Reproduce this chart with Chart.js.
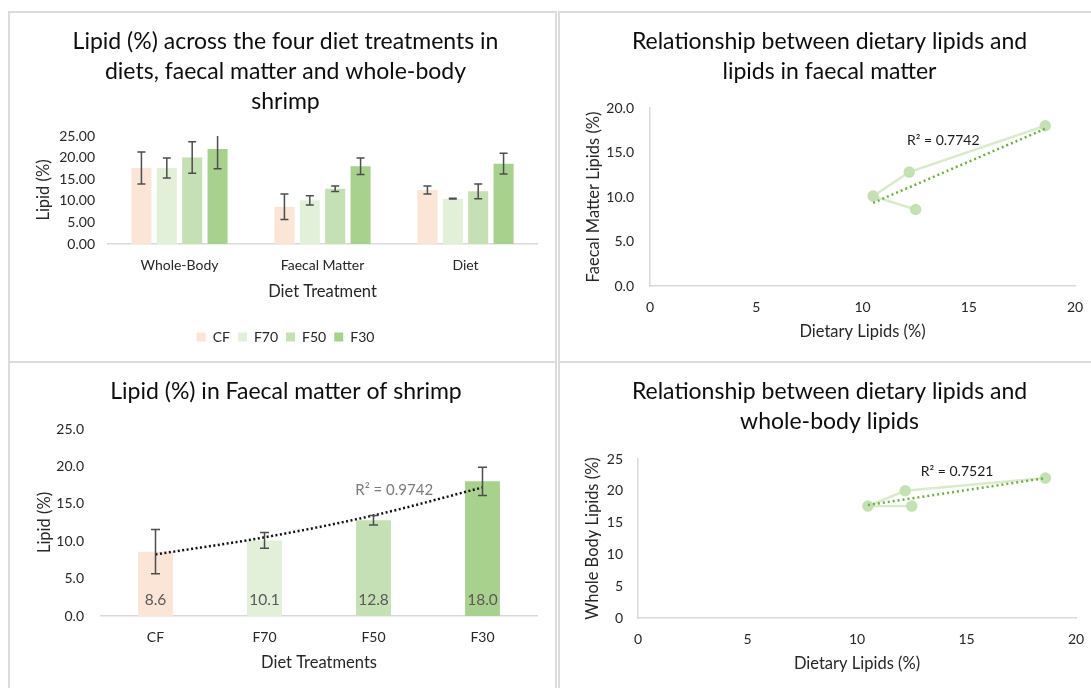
<!DOCTYPE html>
<html>
<head>
<meta charset="utf-8">
<title>Lipid content in diets, faecal matter and whole-body shrimp</title>
<script src="https://cdn.jsdelivr.net/npm/chart.js@4/dist/chart.umd.min.js"></script>
<style>
  html, body { margin: 0; padding: 0; background: #fff; }
  body { position: relative; width: 1091px; height: 688px; overflow: hidden; }
  .panel { position: absolute; box-sizing: border-box; border: 2px solid #dcdcdc; background: #fff; }
  .panel canvas { position: absolute; left: 0; top: 0; }
</style>
</head>
<body>
<div class="panel" style="left:8px; top:11px; width:549px; height:352px;">
  <canvas id="groupedChart" width="545" height="348"></canvas>
</div>
<div class="panel" style="left:558px; top:11px; width:549px; height:352px;">
  <canvas id="faecalScatter" width="545" height="348"></canvas>
</div>
<div class="panel" style="left:8px; top:361px; width:549px; height:344px;">
  <canvas id="faecalBars" width="545" height="340"></canvas>
</div>
<div class="panel" style="left:558px; top:361px; width:549px; height:344px;">
  <canvas id="bodyScatter" width="545" height="340"></canvas>
</div>
<script>
// ---- data ----
const treatments = ['CF', 'F70', 'F50', 'F30'];
const sampleTypes = ['Whole-Body', 'Faecal Matter', 'Diet'];

const wholeBodyLipid = [17.6, 17.6, 20.0, 22.0];
const wholeBodyErr   = [3.7, 2.3, 3.65, 4.6];
const faecalLipid    = [8.6, 10.1, 12.8, 18.0];
const faecalErr      = [2.95, 1.05, 0.65, 1.9];
const dietLipid      = [12.5, 10.5, 12.2, 18.6];
const dietErr        = [0.9, 0.1, 1.7, 2.4];

const r2Text = ['R\u00B2 = 0.9742', 'R\u00B2 = 0.7742', 'R\u00B2 = 0.7521'];

// ---- styling ----
const treatmentColors = ['#fbe5d6', '#e2f0d9', '#c5e0b4', '#a9d18e'];
const AXIS_LINE = '#d9d9d9';
const TEXT = '#262626';
const TITLE_COLOR = '#0d0d0d';
const FONT = "Lato, 'Open Sans', 'Noto Sans', sans-serif";

Chart.defaults.font.family = FONT;
Chart.defaults.color = TEXT;
Chart.defaults.animation = false;
Chart.defaults.plugins.tooltip.enabled = false;

const titleFont = { size: 23, weight: 'normal', lineHeight: 30 / 23 };
const tickFont = { size: 14 };
const axisTitleFont = { size: 16.5, lineHeight: 1.2 };

// ---- fits (least squares, as spreadsheet trendlines do) ----
function linearFit(xs, ys) {
  const n = xs.length;
  const mx = xs.reduce((a, b) => a + b, 0) / n;
  const my = ys.reduce((a, b) => a + b, 0) / n;
  let sxy = 0, sxx = 0;
  for (let i = 0; i < n; i++) { sxy += (xs[i] - mx) * (ys[i] - my); sxx += (xs[i] - mx) ** 2; }
  const slope = sxy / sxx;
  return x => my + slope * (x - mx);
}
function exponentialFit(ys) {
  const xs = ys.map((_, i) => i + 1);
  const f = linearFit(xs, ys.map(Math.log));
  return x => Math.exp(f(x));
}
function trendEnds(xs, ys) {
  const f = linearFit(xs, ys);
  const lo = Math.min(...xs), hi = Math.max(...xs);
  return [{ x: lo, y: f(lo) }, { x: hi, y: f(hi) }];
}

// ---- plugins ----
const errorBarPlugin = {
  id: 'errorBars',
  afterDatasetsDraw(chart, args, opts) {
    const { ctx, chartArea: a } = chart;
    const yScale = chart.scales.y;
    ctx.save();
    ctx.beginPath();
    ctx.rect(a.left, a.top, a.right - a.left, a.bottom - a.top);
    ctx.clip();
    ctx.strokeStyle = opts.color;
    ctx.lineWidth = opts.width;
    chart.data.datasets.forEach((ds, di) => {
      if (!ds.errors) return;
      const meta = chart.getDatasetMeta(di);
      meta.data.forEach((el, i) => {
        const v = ds.data[i], e = ds.errors[i];
        const yHi = yScale.getPixelForValue(v + e);
        const yLo = yScale.getPixelForValue(v - e);
        const x = el.x, c = opts.cap / 2;
        ctx.beginPath();
        ctx.moveTo(x, yHi); ctx.lineTo(x, yLo);
        ctx.moveTo(x - c, yHi); ctx.lineTo(x + c, yHi);
        ctx.moveTo(x - c, yLo); ctx.lineTo(x + c, yLo);
        ctx.stroke();
      });
    });
    ctx.restore();
  }
};

const baseLabelPlugin = {
  id: 'baseLabels',
  afterDatasetsDraw(chart, args, opts) {
    const { ctx } = chart;
    const ds = chart.data.datasets[opts.datasetIndex];
    const meta = chart.getDatasetMeta(opts.datasetIndex);
    const base = chart.scales.y.getPixelForValue(0);
    ctx.save();
    ctx.font = `${opts.size}px ${FONT}`;
    ctx.fillStyle = opts.color;
    ctx.textAlign = 'center';
    ctx.textBaseline = 'middle';
    meta.data.forEach((el, i) => {
      ctx.fillText(ds.data[i].toFixed(1), el.x, base - opts.offset);
    });
    ctx.restore();
  }
};

const r2Plugin = {
  id: 'r2Label',
  afterDatasetsDraw(chart, args, opts) {
    const { ctx } = chart;
    const x = chart.scales.x.getPixelForValue(opts.x);
    const y = chart.scales.y.getPixelForValue(opts.y);
    ctx.save();
    ctx.font = `${opts.size}px ${FONT}`;
    ctx.fillStyle = opts.color;
    ctx.textAlign = 'center';
    ctx.textBaseline = 'middle';
    ctx.fillText(opts.text, x, y);
    ctx.restore();
  }
};

function fixedWidth(w) { return s => { s.width = w; }; }
function fixedHeight(h) { return s => { s.height = h; }; }

// ---- 1. grouped bars: lipid in whole body, faecal matter and diet ----
new Chart(document.getElementById('groupedChart'), {
  type: 'bar',
  data: {
    labels: sampleTypes,
    datasets: treatments.map((t, i) => ({
      label: t,
      data: [wholeBodyLipid[i], faecalLipid[i], dietLipid[i]],
      errors: [wholeBodyErr[i], faecalErr[i], dietErr[i]],
      backgroundColor: treatmentColors[i],
      borderWidth: 0,
      categoryPercentage: 0.71,
      barPercentage: 0.79
    }))
  },
  options: {
    responsive: false,
    layout: { padding: { left: 24, right: 18, top: 0, bottom: 7 } },
    scales: {
      x: {
        grid: { display: false, drawTicks: false },
        border: { display: true, color: AXIS_LINE, width: 1.5 },
        ticks: { font: tickFont, color: TEXT, padding: 13 },
        title: { display: true, text: 'Diet Treatment', font: axisTitleFont, color: TEXT, padding: { top: 0, bottom: 20 } },
        afterFit: fixedHeight(78)
      },
      y: {
        min: 0, max: 25,
        grid: { display: false, drawTicks: false },
        border: { display: false },
        ticks: { stepSize: 5, font: tickFont, color: TEXT, padding: 13, callback: v => v.toFixed(2) },
        title: { display: true, text: 'Lipid (%)', font: axisTitleFont, color: TEXT, padding: { top: 0, bottom: 0 } },
        afterFit: fixedWidth(74)
      }
    },
    plugins: {
      title: {
        display: true,
        text: ['Lipid (%) across the four diet treatments in', 'diets, faecal matter and whole-body', 'shrimp'],
        font: titleFont, color: TITLE_COLOR,
        padding: { top: 14, bottom: 19 }
      },
      legend: {
        position: 'bottom',
        labels: { boxWidth: 9, boxHeight: 9, padding: 8, font: { size: 14 }, color: TEXT }
      },
      errorBars: { color: '#4d4d4d', width: 1.5, cap: 8 }
    }
  },
  plugins: [errorBarPlugin]
});

// ---- 2. scatter: dietary lipids vs faecal lipids ----
new Chart(document.getElementById('faecalScatter'), {
  type: 'scatter',
  data: {
    datasets: [
      {
        label: 'Linear trend',
        data: trendEnds(dietLipid, faecalLipid),
        showLine: true,
        borderColor: '#70ad47',
        borderWidth: 2.5,
        borderDash: [2, 3],
        pointRadius: 0,
        order: 0
      },
      {
        label: 'Faecal matter lipids',
        data: dietLipid.map((x, i) => ({ x, y: faecalLipid[i] })),
        showLine: true,
        borderColor: '#d8ebcd',
        borderWidth: 2.5,
        pointRadius: 4.5,
        pointBackgroundColor: '#c5e0b4',
        pointBorderColor: '#c5e0b4',
        order: 1
      }
    ]
  },
  options: {
    responsive: false,
    layout: { padding: { left: 24, right: 30, top: 0, bottom: 0 } },
    scales: {
      x: {
        min: 0, max: 20,
        grid: { display: false, drawTicks: false },
        border: { display: true, color: AXIS_LINE, width: 1.5 },
        ticks: { stepSize: 5, font: tickFont, color: TEXT, padding: 13 },
        title: { display: true, text: 'Dietary Lipids (%)', font: axisTitleFont, color: TEXT, padding: { top: 0, bottom: 19 } },
        afterFit: fixedHeight(75)
      },
      y: {
        min: 0, max: 20,
        grid: { display: false, drawTicks: false },
        border: { display: true, color: AXIS_LINE, width: 1.5 },
        ticks: { stepSize: 5, font: tickFont, color: TEXT, padding: 16, callback: v => v.toFixed(1) },
        title: { display: true, text: 'Faecal Matter Lipids (%)', font: axisTitleFont, color: TEXT, padding: { top: 0, bottom: 0 } },
        afterFit: fixedWidth(66)
      }
    },
    plugins: {
      title: {
        display: true,
        text: ['Relationship between dietary lipids and', 'lipids in faecal matter'],
        font: titleFont, color: TITLE_COLOR,
        padding: { top: 14, bottom: 21 }
      },
      legend: { display: false },
      r2Label: { text: r2Text[1], x: 13.8, y: 16.4, size: 14, color: '#1a1a1a' }
    }
  },
  plugins: [r2Plugin]
});

// ---- 3. bars: lipid in faecal matter with exponential trend ----
const faecalTrend = exponentialFit(faecalLipid);
new Chart(document.getElementById('faecalBars'), {
  type: 'bar',
  data: {
    labels: treatments,
    datasets: [
      {
        type: 'line',
        label: 'Exponential trend',
        data: treatments.map((_, i) => faecalTrend(i + 1)),
        borderColor: '#111111',
        borderWidth: 2.5,
        borderDash: [2, 2.5],
        pointRadius: 0,
        cubicInterpolationMode: 'monotone',
        order: 0
      },
      {
        label: 'Lipid (%)',
        data: faecalLipid,
        errors: faecalErr,
        backgroundColor: treatmentColors,
        borderWidth: 0,
        categoryPercentage: 1,
        barPercentage: 0.32,
        order: 1
      }
    ]
  },
  options: {
    responsive: false,
    layout: { padding: { left: 25, right: 18, top: 0, bottom: 0 } },
    scales: {
      x: {
        grid: { display: false, drawTicks: false },
        border: { display: true, color: AXIS_LINE, width: 1.5 },
        ticks: { font: tickFont, color: TEXT, padding: 13 },
        title: { display: true, text: 'Diet Treatments', font: axisTitleFont, color: TEXT, padding: { top: 0, bottom: 30 } },
        afterFit: fixedHeight(87)
      },
      y: {
        min: 0, max: 25,
        grid: { display: false, drawTicks: false },
        border: { display: false },
        ticks: { stepSize: 5, font: tickFont, color: TEXT, padding: 17, callback: v => v.toFixed(1) },
        title: { display: true, text: 'Lipid (%)', font: axisTitleFont, color: TEXT, padding: { top: 0, bottom: 0 } },
        afterFit: fixedWidth(66)
      }
    },
    plugins: {
      title: {
        display: true,
        text: 'Lipid (%) in Faecal matter of shrimp',
        font: titleFont, color: TITLE_COLOR,
        padding: { top: 14, bottom: 22 }
      },
      legend: { display: false },
      errorBars: { color: '#4d4d4d', width: 1.5, cap: 9 },
      baseLabels: { datasetIndex: 1, size: 15.5, color: '#595959', offset: 16 },
      r2Label: { text: r2Text[0], x: 2.19, y: 16.85, size: 15, color: '#7a7a7a' }
    }
  },
  plugins: [errorBarPlugin, baseLabelPlugin, r2Plugin]
});

// ---- 4. scatter: dietary lipids vs whole-body lipids ----
new Chart(document.getElementById('bodyScatter'), {
  type: 'scatter',
  data: {
    datasets: [
      {
        label: 'Linear trend',
        data: trendEnds(dietLipid, wholeBodyLipid),
        showLine: true,
        borderColor: '#70ad47',
        borderWidth: 2.5,
        borderDash: [2, 3],
        pointRadius: 0,
        order: 0
      },
      {
        label: 'Whole body lipids',
        data: dietLipid.map((x, i) => ({ x, y: wholeBodyLipid[i] })),
        showLine: true,
        borderColor: '#d8ebcd',
        borderWidth: 2.5,
        pointRadius: 4.5,
        pointBackgroundColor: '#c5e0b4',
        pointBorderColor: '#c5e0b4',
        order: 1
      }
    ]
  },
  options: {
    responsive: false,
    layout: { padding: { left: 23, right: 29, top: 0, bottom: 0 } },
    scales: {
      x: {
        min: 0, max: 20,
        grid: { display: false, drawTicks: false },
        border: { display: true, color: AXIS_LINE, width: 1.5 },
        ticks: { stepSize: 5, font: tickFont, color: TEXT, padding: 13 },
        title: { display: true, text: 'Dietary Lipids (%)', font: axisTitleFont, color: TEXT, padding: { top: 0, bottom: 29 } },
        afterFit: fixedHeight(85)
      },
      y: {
        min: 0, max: 25,
        grid: { display: false, drawTicks: false },
        border: { display: true, color: AXIS_LINE, width: 1.5 },
        ticks: { stepSize: 5, font: tickFont, color: TEXT, padding: 15 },
        title: { display: true, text: 'Whole Body Lipids (%)', font: axisTitleFont, color: TEXT, padding: { top: 0, bottom: 0 } },
        afterFit: fixedWidth(55)
      }
    },
    plugins: {
      title: {
        display: true,
        text: ['Relationship between dietary lipids and', 'whole-body lipids'],
        font: titleFont, color: TITLE_COLOR,
        padding: { top: 14, bottom: 22 }
      },
      legend: { display: false },
      r2Label: { text: r2Text[2], x: 14.57, y: 23.1, size: 14, color: '#1a1a1a' }
    }
  },
  plugins: [r2Plugin]
});
</script>
</body>
</html>
